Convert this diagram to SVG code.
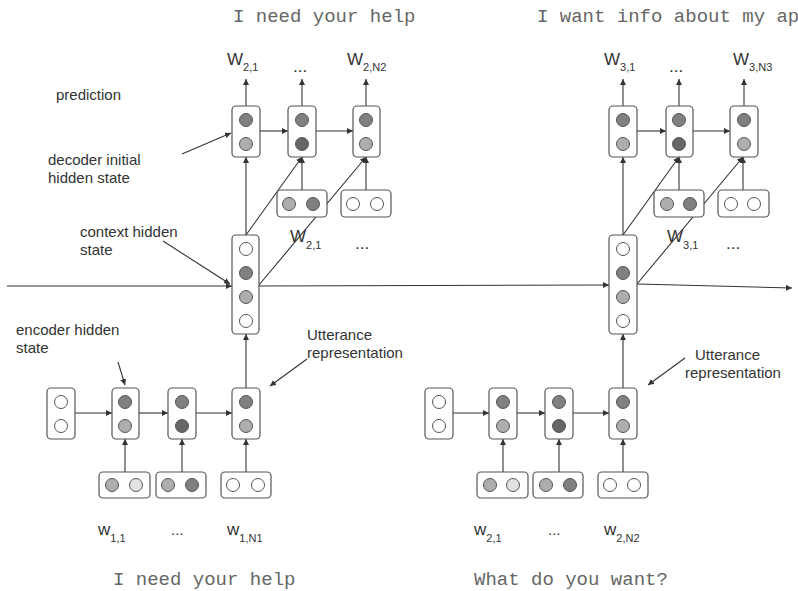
<svg xmlns="http://www.w3.org/2000/svg" width="798" height="591" viewBox="0 0 798 591">
<defs>
<marker id="ah" markerUnits="userSpaceOnUse" markerWidth="7" markerHeight="6" refX="6" refY="3" orient="auto">
<path d="M0,0 L6,3 L0,6 z" fill="#333"/>
</marker>
<style>
.box{fill:#fff;stroke:#555;stroke-width:1.2}
.c{stroke:#555;stroke-width:1}
.w{fill:#fff}
.d1{fill:#808080}
.d2{fill:#666}
.l1{fill:#adadad}
.l2{fill:#e2e2e2}
.ln{stroke:#333;stroke-width:1.1;fill:none}
.ar{stroke:#333;stroke-width:1.1;fill:none;marker-end:url(#ah)}
.lab{font-family:"Liberation Sans",Arial,sans-serif;font-size:15px;fill:#333}
.W{font-family:"Liberation Sans",Arial,sans-serif;font-size:17px;fill:#333}
.sub{font-size:11px}
.mono{font-family:"Liberation Mono","Courier New",monospace;font-size:19px;fill:#666}
</style>
</defs>
<rect width="798" height="591" fill="#fff"/>

<g id="connectors">
<!-- left decoder outputs -->
<line class="ar" x1="246" y1="106" x2="246" y2="79"/>
<line class="ar" x1="302" y1="106" x2="302" y2="79"/>
<line class="ar" x1="366" y1="106" x2="366" y2="79"/>
<line class="ar" x1="260" y1="131" x2="288" y2="131"/>
<line class="ar" x1="316" y1="131" x2="353" y2="131"/>
<line class="ar" x1="302" y1="190" x2="302" y2="157"/>
<line class="ar" x1="366" y1="190" x2="366" y2="157"/>
<line class="ar" x1="246" y1="235" x2="246" y2="157"/>
<line class="ar" x1="246" y1="235" x2="302" y2="157"/>
<line class="ar" x1="259" y1="285" x2="366" y2="157"/>
<!-- right decoder -->
<line class="ar" x1="623" y1="106" x2="623" y2="79"/>
<line class="ar" x1="679" y1="106" x2="679" y2="79"/>
<line class="ar" x1="744" y1="106" x2="744" y2="79"/>
<line class="ar" x1="637" y1="131" x2="666" y2="131"/>
<line class="ar" x1="693" y1="131" x2="730" y2="131"/>
<line class="ar" x1="679" y1="190" x2="679" y2="157"/>
<line class="ar" x1="743" y1="190" x2="743" y2="157"/>
<line class="ar" x1="623" y1="235" x2="623" y2="157"/>
<line class="ar" x1="623" y1="235" x2="679" y2="157"/>
<line class="ar" x1="637" y1="284" x2="743" y2="157"/>
<!-- context line -->
<line class="ar" x1="7" y1="286" x2="232" y2="286"/>
<line class="ar" x1="259" y1="286" x2="609" y2="285"/>
<line class="ar" x1="637" y1="284" x2="792" y2="288"/>
<!-- left encoder -->
<line class="ar" x1="75" y1="413" x2="112" y2="413"/>
<line class="ar" x1="139" y1="413" x2="168" y2="413"/>
<line class="ar" x1="196" y1="413" x2="232" y2="413"/>
<line class="ar" x1="125" y1="472" x2="125" y2="439"/>
<line class="ar" x1="182" y1="472" x2="182" y2="439"/>
<line class="ar" x1="246" y1="472" x2="246" y2="439"/>
<line class="ar" x1="246" y1="388" x2="246" y2="334"/>
<!-- right encoder -->
<line class="ar" x1="453" y1="413" x2="489" y2="413"/>
<line class="ar" x1="517" y1="413" x2="545" y2="413"/>
<line class="ar" x1="573" y1="413" x2="609" y2="413"/>
<line class="ar" x1="503" y1="472" x2="503" y2="439"/>
<line class="ar" x1="559" y1="472" x2="559" y2="439"/>
<line class="ar" x1="623" y1="472" x2="623" y2="439"/>
<line class="ar" x1="623" y1="388" x2="623" y2="334"/>
<!-- annotation arrows -->
<line class="ar" x1="182" y1="154" x2="231" y2="133"/>
<line class="ar" x1="163" y1="241" x2="230" y2="284"/>
<line class="ar" x1="118" y1="362" x2="125" y2="385"/>
<line class="ar" x1="307" y1="359" x2="270" y2="386"/>
<line class="ar" x1="685" y1="358" x2="648" y2="385"/>
</g>

<!-- left decoder -->
<g id="dec1a"><rect class="box" x="232" y="106" width="28" height="51" rx="4"/><circle class="c d1" cx="246" cy="120" r="6.5"/><circle class="c l1" cx="246" cy="144" r="6.5"/></g>
<g id="dec1b"><rect class="box" x="288" y="106" width="28" height="51" rx="4"/><circle class="c d1" cx="302" cy="120" r="6.5"/><circle class="c d2" cx="302" cy="144" r="6.5"/></g>
<g id="dec1c"><rect class="box" x="353" y="106" width="27" height="51" rx="4"/><circle class="c d1" cx="366" cy="120" r="6.5"/><circle class="c l1" cx="366" cy="144" r="6.5"/></g>
<g id="decin1a"><rect class="box" x="277" y="190" width="50" height="27" rx="4"/><circle class="c l1" cx="289" cy="204" r="6.5"/><circle class="c d1" cx="313" cy="204" r="6.5"/></g>
<g id="decin1b"><rect class="box" x="341" y="190" width="50" height="27" rx="4"/><circle class="c w" cx="353" cy="204" r="6.5"/><circle class="c w" cx="377" cy="204" r="6.5"/></g>
<g id="ctx1"><rect class="box" x="232" y="235" width="27" height="99" rx="4"/><circle class="c w" cx="246" cy="249" r="6.5"/><circle class="c d1" cx="246" cy="273" r="6.5"/><circle class="c l1" cx="246" cy="297" r="6.5"/><circle class="c w" cx="246" cy="321" r="6.5"/></g>
<!-- left encoder -->
<g id="encinit1"><rect class="box" x="47" y="388" width="28" height="51" rx="4"/><circle class="c w" cx="61" cy="402" r="6.5"/><circle class="c w" cx="61" cy="426" r="6.5"/></g>
<g id="enc1a"><rect class="box" x="112" y="388" width="27" height="51" rx="4"/><circle class="c d1" cx="125" cy="402" r="6.5"/><circle class="c l1" cx="125" cy="426" r="6.5"/></g>
<g id="enc1b"><rect class="box" x="168" y="388" width="28" height="51" rx="4"/><circle class="c d1" cx="182" cy="402" r="6.5"/><circle class="c d2" cx="182" cy="426" r="6.5"/></g>
<g id="enc1c"><rect class="box" x="232" y="388" width="28" height="51" rx="4"/><circle class="c d1" cx="246" cy="402" r="6.5"/><circle class="c l1" cx="246" cy="426" r="6.5"/></g>
<g id="encin1a"><rect class="box" x="99" y="472" width="51" height="26" rx="4"/><circle class="c l1" cx="112" cy="485" r="6.5"/><circle class="c l2" cx="136" cy="485" r="6.5"/></g>
<g id="encin1b"><rect class="box" x="156" y="472" width="50" height="26" rx="4"/><circle class="c l1" cx="168" cy="485" r="6.5"/><circle class="c d1" cx="192" cy="485" r="6.5"/></g>
<g id="encin1c"><rect class="box" x="221" y="472" width="50" height="26" rx="4"/><circle class="c w" cx="233" cy="485" r="6.5"/><circle class="c w" cx="258" cy="485" r="6.5"/></g>

<!-- right decoder -->
<g id="dec2a"><rect class="box" x="609" y="106" width="28" height="51" rx="4"/><circle class="c d1" cx="623" cy="120" r="6.5"/><circle class="c l1" cx="623" cy="144" r="6.5"/></g>
<g id="dec2b"><rect class="box" x="666" y="106" width="27" height="51" rx="4"/><circle class="c d1" cx="679" cy="120" r="6.5"/><circle class="c d2" cx="679" cy="144" r="6.5"/></g>
<g id="dec2c"><rect class="box" x="730" y="106" width="28" height="51" rx="4"/><circle class="c d1" cx="744" cy="120" r="6.5"/><circle class="c l1" cx="744" cy="144" r="6.5"/></g>
<g id="decin2a"><rect class="box" x="654" y="190" width="50" height="27" rx="4"/><circle class="c l1" cx="667" cy="204" r="6.5"/><circle class="c d1" cx="690" cy="204" r="6.5"/></g>
<g id="decin2b"><rect class="box" x="718" y="190" width="51" height="27" rx="4"/><circle class="c w" cx="731" cy="204" r="6.5"/><circle class="c w" cx="754" cy="204" r="6.5"/></g>
<g id="ctx2"><rect class="box" x="609" y="235" width="28" height="99" rx="4"/><circle class="c w" cx="623" cy="249" r="6.5"/><circle class="c d1" cx="623" cy="273" r="6.5"/><circle class="c l1" cx="623" cy="297" r="6.5"/><circle class="c w" cx="623" cy="321" r="6.5"/></g>
<!-- right encoder -->
<g id="encinit2"><rect class="box" x="425" y="388" width="28" height="51" rx="4"/><circle class="c w" cx="439" cy="402" r="6.5"/><circle class="c w" cx="439" cy="426" r="6.5"/></g>
<g id="enc2a"><rect class="box" x="489" y="388" width="28" height="51" rx="4"/><circle class="c d1" cx="503" cy="402" r="6.5"/><circle class="c l1" cx="503" cy="426" r="6.5"/></g>
<g id="enc2b"><rect class="box" x="545" y="388" width="28" height="51" rx="4"/><circle class="c d1" cx="559" cy="402" r="6.5"/><circle class="c d2" cx="559" cy="426" r="6.5"/></g>
<g id="enc2c"><rect class="box" x="609" y="388" width="28" height="51" rx="4"/><circle class="c d1" cx="623" cy="402" r="6.5"/><circle class="c l1" cx="623" cy="426" r="6.5"/></g>
<g id="encin2a"><rect class="box" x="477" y="472" width="51" height="26" rx="4"/><circle class="c l1" cx="490" cy="485" r="6.5"/><circle class="c l2" cx="513" cy="485" r="6.5"/></g>
<g id="encin2b"><rect class="box" x="533" y="472" width="50" height="26" rx="4"/><circle class="c l1" cx="546" cy="485" r="6.5"/><circle class="c d1" cx="570" cy="485" r="6.5"/></g>
<g id="encin2c"><rect class="box" x="598" y="472" width="50" height="26" rx="4"/><circle class="c w" cx="610" cy="485" r="6.5"/><circle class="c w" cx="634" cy="485" r="6.5"/></g>

<g id="labels">
<text class="mono" x="233" y="22">I need your help</text>
<text class="mono" x="537" y="22">I want info about my ap</text>
<text class="mono" x="113" y="585">I need your help</text>
<text class="mono" x="474" y="585">What do you want?</text>

<text class="W" x="227" y="65">W<tspan class="sub" dy="6">2,1</tspan></text>
<text class="W" x="293" y="72">...</text>
<text class="W" x="347" y="65">W<tspan class="sub" dy="6">2,N2</tspan></text>
<text class="W" x="604" y="65">W<tspan class="sub" dy="6">3,1</tspan></text>
<text class="W" x="669" y="72">...</text>
<text class="W" x="733" y="65">W<tspan class="sub" dy="6">3,N3</tspan></text>

<text class="W" x="290" y="242">W<tspan class="sub" dy="7">2,1</tspan></text>
<text class="W" x="355" y="249">...</text>
<text class="W" x="667" y="242">W<tspan class="sub" dy="7">3,1</tspan></text>
<text class="W" x="726" y="249">...</text>

<text class="W" x="98" y="535">w<tspan class="sub" dy="7">1,1</tspan></text>
<text class="lab" x="171" y="535">...</text>
<text class="W" x="227" y="535">w<tspan class="sub" dy="7">1,N1</tspan></text>
<text class="W" x="474" y="535">w<tspan class="sub" dy="7">2,1</tspan></text>
<text class="lab" x="548" y="535">...</text>
<text class="W" x="604" y="535">w<tspan class="sub" dy="7">2,N2</tspan></text>

<text class="lab" x="56" y="100">prediction</text>
<text class="lab" x="48" y="165">decoder initial</text>
<text class="lab" x="48" y="183">hidden state</text>
<text class="lab" x="80" y="237">context hidden</text>
<text class="lab" x="80" y="255">state</text>
<text class="lab" x="16" y="335">encoder hidden</text>
<text class="lab" x="16" y="353">state</text>
<text class="lab" x="307" y="340">Utterance</text>
<text class="lab" x="307" y="358">representation</text>
<text class="lab" x="695" y="360">Utterance</text>
<text class="lab" x="685" y="378">representation</text>
</g>
</svg>
